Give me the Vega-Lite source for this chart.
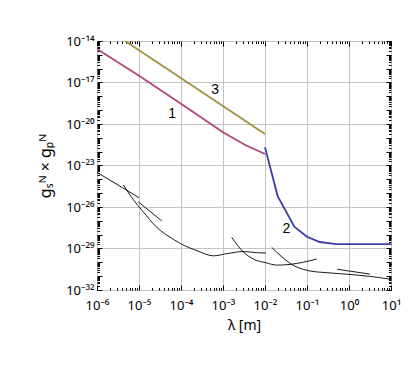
{
  "$schema": "https://vega.github.io/schema/vega-lite/v6.json",
  "width": 294,
  "height": 249,
  "autosize": "none",
  "padding": {"left": 97, "top": 41, "right": 20, "bottom": 102},
  "background": "white",
  "config": {
    "view": {"stroke": "black", "strokeWidth": 1},
    "font": "Noto Sans",
    "axis": {"domain": false, "tickColor": "black", "tickWidth": 1, "labelColor": "black", "titleColor": "black", "labelFont": "Noto Sans", "titleFont": "Noto Sans", "labelFontSize": 13, "titleFontSize": 14, "titleFontWeight": "normal", "gridColor": "#c4c4c4", "gridWidth": 1, "labelOverlap": false}
  },
  "datasets": {
    "colored": [
      {"id": "3", "lam": 4.68e-6, "g": 1e-14},
      {"id": "3", "lam": 1e-2, "g": 1.905e-21},
      {"id": "1", "lam": 1e-6, "g": 2.63e-15},
      {"id": "1", "lam": 1e-5, "g": 3.09e-17},
      {"id": "1", "lam": 1e-4, "g": 2.95e-19},
      {"id": "1", "lam": 1e-3, "g": 2.51e-21},
      {"id": "1", "lam": 2e-3, "g": 7.6e-22},
      {"id": "1", "lam": 3.31e-3, "g": 3.16e-22},
      {"id": "1", "lam": 5e-3, "g": 1.78e-22},
      {"id": "1", "lam": 1e-2, "g": 6.76e-23},
      {"id": "2", "lam": 1e-2, "g": 2.04e-22},
      {"id": "2", "lam": 2e-2, "g": 6.17e-26},
      {"id": "2", "lam": 5e-2, "g": 3.72e-28},
      {"id": "2", "lam": 0.1, "g": 7.08e-29},
      {"id": "2", "lam": 0.2, "g": 2.95e-29},
      {"id": "2", "lam": 0.5, "g": 2.09e-29},
      {"id": "2", "lam": 10, "g": 2.09e-29}
    ],
    "black": [
      {"id": "A1", "lam": 1e-6, "g": 3.2e-24},
      {"id": "A1", "lam": 4.68e-6, "g": 1.905e-25},
      {"id": "A1", "lam": 1e-5, "g": 4.68e-26},
      {"id": "A2", "lam": 9.55e-6, "g": 2.4e-26},
      {"id": "A2", "lam": 3.47e-5, "g": 1e-27},
      {"id": "A3", "lam": 4.27e-6, "g": 3.89e-25},
      {"id": "A3", "lam": 6.31e-6, "g": 6.3e-26},
      {"id": "A3", "lam": 1.26e-5, "g": 4.57e-27},
      {"id": "A3", "lam": 2.51e-5, "g": 3.98e-28},
      {"id": "A3", "lam": 6.61e-5, "g": 4.57e-29},
      {"id": "A3", "lam": 9.55e-5, "g": 2.34e-29},
      {"id": "A3", "lam": 2.51e-4, "g": 6.6e-30},
      {"id": "A3", "lam": 5.89e-4, "g": 2.95e-30},
      {"id": "A3", "lam": 1.26e-3, "g": 4.27e-30},
      {"id": "A3", "lam": 3.02e-3, "g": 6.03e-30},
      {"id": "A3", "lam": 6.31e-3, "g": 5.01e-30},
      {"id": "A3", "lam": 1.047e-2, "g": 4.68e-30},
      {"id": "B", "lam": 1.62e-3, "g": 6.31e-29},
      {"id": "B", "lam": 3.02e-3, "g": 5.75e-30},
      {"id": "B", "lam": 5.62e-3, "g": 1.585e-30},
      {"id": "B", "lam": 1.047e-2, "g": 9.33e-31},
      {"id": "B", "lam": 1.905e-2, "g": 6.31e-31},
      {"id": "B", "lam": 3.98e-2, "g": 7.08e-31},
      {"id": "B", "lam": 7.94e-2, "g": 1e-30},
      {"id": "B", "lam": 0.17, "g": 1.74e-30},
      {"id": "C", "lam": 1.445e-2, "g": 1.2e-29},
      {"id": "C", "lam": 2.51e-2, "g": 2.51e-30},
      {"id": "C", "lam": 3.98e-2, "g": 8.32e-31},
      {"id": "C", "lam": 0.107, "g": 2.51e-31},
      {"id": "C", "lam": 0.295, "g": 1.78e-31},
      {"id": "C", "lam": 1, "g": 1.35e-31},
      {"id": "C", "lam": 8.71, "g": 6.31e-32},
      {"id": "C", "lam": 10, "g": 5.89e-32},
      {"id": "D", "lam": 0.525, "g": 3.16e-31},
      {"id": "D", "lam": 3.16, "g": 1.41e-31}
    ],
    "labels": [
      {"t": "3", "lam": 6.46e-4, "g": 2.69e-18},
      {"t": "1", "lam": 6.17e-5, "g": 5.25e-20},
      {"t": "2", "lam": 0.0324, "g": 2.4e-28}
    ]
  },
  "layer": [
    {
      "data": {"name": "colored"},
      "mark": {"type": "line", "strokeWidth": 1.8, "clip": true},
      "encoding": {
        "x": {
          "field": "lam", "type": "quantitative",
          "scale": {"type": "log", "domain": [1e-6, 10], "nice": false},
          "axis": {
            "orient": "bottom",
            "title": "λ [m]",
            "titlePadding": 4,
            "titleFontSize": 14,
            "values": [1e-6,2e-6,3e-6,4e-6,5e-6,6e-6,7e-6,8e-6,9e-6,1e-5,2e-5,3e-5,4e-5,5e-5,6e-5,7e-5,8e-5,9e-5,1e-4,2e-4,3e-4,4e-4,5e-4,6e-4,7e-4,8e-4,9e-4,1e-3,2e-3,3e-3,4e-3,5e-3,6e-3,7e-3,8e-3,9e-3,0.01,0.02,0.03,0.04,0.05,0.06,0.07,0.08,0.09,0.1,0.2,0.3,0.4,0.5,0.6,0.7,0.8,0.9,1,2,3,4,5,6,7,8,9,10],
            "labelExpr": "abs(log(datum.value)/LN10 - round(log(datum.value)/LN10)) < 0.001 ? '10' + replace(replace(replace(replace(replace(replace(replace(replace(replace(replace(replace('' + round(log(datum.value)/LN10), '-', '⁻'), '0', '⁰'), '1', '¹'), '2', '²'), '3', '³'), '4', '⁴'), '5', '⁵'), '6', '⁶'), '7', '⁷'), '8', '⁸'), '9', '⁹') : ''",
            "labelFlush": false,
            "labelPadding": 14,
            "tickSize": {"condition": {"test": "abs(log(datum.value)/LN10 - round(log(datum.value)/LN10)) < 0.001", "value": -5}, "value": -2.5},
            "grid": true,
            "gridOpacity": {"condition": {"test": "abs(log(datum.value)/LN10 - round(log(datum.value)/LN10)) < 0.001", "value": 1}, "value": 0}
          }
        },
        "y": {
          "field": "g", "type": "quantitative",
          "scale": {"type": "log", "domain": [1e-32, 1e-14], "nice": false},
          "axis": {
            "orient": "left",
            "title": "gₛᴺ × gₚᴺ",
            "titlePadding": 12,
            "titleFontSize": 16,
            "values": [1e-32,2e-32,3e-32,4e-32,5e-32,6e-32,7e-32,8e-32,9e-32,1e-31,2e-31,3e-31,4e-31,5e-31,6e-31,7e-31,8e-31,9e-31,1e-30,2e-30,3e-30,4e-30,5e-30,6e-30,7e-30,8e-30,9e-30,1e-29,2e-29,3e-29,4e-29,5e-29,6e-29,7e-29,8e-29,9e-29,1e-28,2e-28,3e-28,4e-28,5e-28,6e-28,7e-28,8e-28,9e-28,1e-27,2e-27,3e-27,4e-27,5e-27,6e-27,7e-27,8e-27,9e-27,1e-26,2e-26,3e-26,4e-26,5e-26,6e-26,7e-26,8e-26,9e-26,1e-25,2e-25,3e-25,4e-25,5e-25,6e-25,7e-25,8e-25,9e-25,1e-24,2e-24,3e-24,4e-24,5e-24,6e-24,7e-24,8e-24,9e-24,1e-23,2e-23,3e-23,4e-23,5e-23,6e-23,7e-23,8e-23,9e-23,1e-22,2e-22,3e-22,4e-22,5e-22,6e-22,7e-22,8e-22,9e-22,1e-21,2e-21,3e-21,4e-21,5e-21,6e-21,7e-21,8e-21,9e-21,1e-20,2e-20,3e-20,4e-20,5e-20,6e-20,7e-20,8e-20,9e-20,1e-19,2e-19,3e-19,4e-19,5e-19,6e-19,7e-19,8e-19,9e-19,1e-18,2e-18,3e-18,4e-18,5e-18,6e-18,7e-18,8e-18,9e-18,1e-17,2e-17,3e-17,4e-17,5e-17,6e-17,7e-17,8e-17,9e-17,1e-16,2e-16,3e-16,4e-16,5e-16,6e-16,7e-16,8e-16,9e-16,1e-15,2e-15,3e-15,4e-15,5e-15,6e-15,7e-15,8e-15,9e-15,1e-14],
            "labelExpr": "abs(log(datum.value)/LN10 - round(log(datum.value)/LN10)) < 0.001 && (round(log(datum.value)/LN10) + 32) % 3 == 0 ? '10' + replace(replace(replace(replace(replace(replace(replace(replace(replace(replace(replace('' + round(log(datum.value)/LN10), '-', '⁻'), '0', '⁰'), '1', '¹'), '2', '²'), '3', '³'), '4', '⁴'), '5', '⁵'), '6', '⁶'), '7', '⁷'), '8', '⁸'), '9', '⁹') : ''",
            "labelFlush": false,
            "labelPadding": 8,
            "tickSize": {"condition": {"test": "abs(log(datum.value)/LN10 - round(log(datum.value)/LN10)) < 0.001", "value": -5}, "value": -2.5},
            "grid": true,
            "gridOpacity": {"condition": {"test": "abs(log(datum.value)/LN10 - round(log(datum.value)/LN10)) < 0.001 && (round(log(datum.value)/LN10) + 32) % 3 == 0", "value": 1}, "value": 0}
          }
        },
        "color": {"field": "id", "type": "nominal", "scale": {"domain": ["1", "2", "3"], "range": ["#b0447c", "#3c3ca8", "#a0923e"]}, "legend": null}
      }
    },
    {
      "data": {"name": "black"},
      "mark": {"type": "line", "strokeWidth": 0.9, "color": "black", "clip": true, "interpolate": "monotone"},
      "encoding": {
        "x": {"field": "lam", "type": "quantitative", "axis": null},
        "y": {"field": "g", "type": "quantitative", "axis": null},
        "detail": {"field": "id", "type": "nominal"}
      }
    },
    {
      "data": {"name": "labels"},
      "mark": {"type": "text", "fontSize": 14, "font": "Liberation Sans", "color": "black"},
      "encoding": {
        "x": {
          "field": "lam", "type": "quantitative",
          "axis": {
            "orient": "top", "title": null, "labels": false, "grid": false,
            "values": [1e-6,2e-6,3e-6,4e-6,5e-6,6e-6,7e-6,8e-6,9e-6,1e-5,2e-5,3e-5,4e-5,5e-5,6e-5,7e-5,8e-5,9e-5,1e-4,2e-4,3e-4,4e-4,5e-4,6e-4,7e-4,8e-4,9e-4,1e-3,2e-3,3e-3,4e-3,5e-3,6e-3,7e-3,8e-3,9e-3,0.01,0.02,0.03,0.04,0.05,0.06,0.07,0.08,0.09,0.1,0.2,0.3,0.4,0.5,0.6,0.7,0.8,0.9,1,2,3,4,5,6,7,8,9,10],
            "tickSize": {"condition": {"test": "abs(log(datum.value)/LN10 - round(log(datum.value)/LN10)) < 0.001", "value": -5}, "value": -2.5}
          }
        },
        "y": {
          "field": "g", "type": "quantitative",
          "axis": {
            "orient": "right", "title": null, "labels": false, "grid": false,
            "values": [1e-32,2e-32,3e-32,4e-32,5e-32,6e-32,7e-32,8e-32,9e-32,1e-31,2e-31,3e-31,4e-31,5e-31,6e-31,7e-31,8e-31,9e-31,1e-30,2e-30,3e-30,4e-30,5e-30,6e-30,7e-30,8e-30,9e-30,1e-29,2e-29,3e-29,4e-29,5e-29,6e-29,7e-29,8e-29,9e-29,1e-28,2e-28,3e-28,4e-28,5e-28,6e-28,7e-28,8e-28,9e-28,1e-27,2e-27,3e-27,4e-27,5e-27,6e-27,7e-27,8e-27,9e-27,1e-26,2e-26,3e-26,4e-26,5e-26,6e-26,7e-26,8e-26,9e-26,1e-25,2e-25,3e-25,4e-25,5e-25,6e-25,7e-25,8e-25,9e-25,1e-24,2e-24,3e-24,4e-24,5e-24,6e-24,7e-24,8e-24,9e-24,1e-23,2e-23,3e-23,4e-23,5e-23,6e-23,7e-23,8e-23,9e-23,1e-22,2e-22,3e-22,4e-22,5e-22,6e-22,7e-22,8e-22,9e-22,1e-21,2e-21,3e-21,4e-21,5e-21,6e-21,7e-21,8e-21,9e-21,1e-20,2e-20,3e-20,4e-20,5e-20,6e-20,7e-20,8e-20,9e-20,1e-19,2e-19,3e-19,4e-19,5e-19,6e-19,7e-19,8e-19,9e-19,1e-18,2e-18,3e-18,4e-18,5e-18,6e-18,7e-18,8e-18,9e-18,1e-17,2e-17,3e-17,4e-17,5e-17,6e-17,7e-17,8e-17,9e-17,1e-16,2e-16,3e-16,4e-16,5e-16,6e-16,7e-16,8e-16,9e-16,1e-15,2e-15,3e-15,4e-15,5e-15,6e-15,7e-15,8e-15,9e-15,1e-14],
            "tickSize": {"condition": {"test": "abs(log(datum.value)/LN10 - round(log(datum.value)/LN10)) < 0.001", "value": -5}, "value": -2.5}
          }
        },
        "text": {"field": "t", "type": "nominal"}
      }
    }
  ],
  "resolve": {"axis": {"x": "independent", "y": "independent"}}
}
